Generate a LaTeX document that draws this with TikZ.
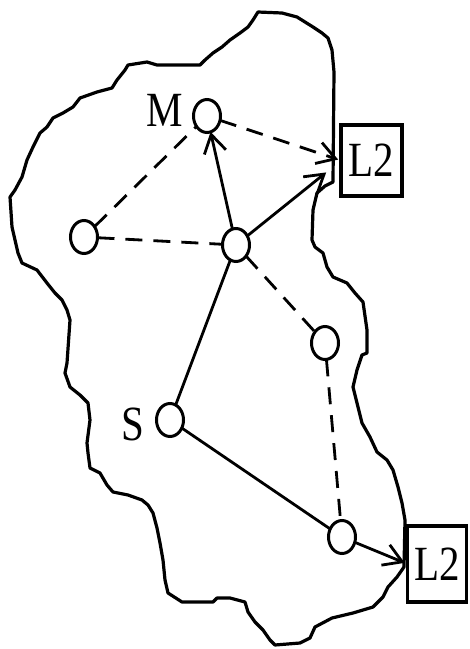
\documentclass[tikz,border=0pt]{standalone}
\usepackage{fontspec}
\setmainfont{Liberation Serif}
\usetikzlibrary{arrows.meta,shapes.geometric}
\begin{document}
\begin{tikzpicture}[x=1pt,y=-1pt,
  every node/.style={inner sep=0pt,outer sep=0pt},
  vert/.style={draw,ellipse,line width=3pt,minimum width=27pt,minimum height=33pt},
  lbox/.style={draw,rectangle,line width=3.5pt,minimum width=61pt,minimum height=71pt,font=\fontsize{41}{41}\selectfont},
  lab/.style={font=\fontsize{41}{41}\selectfont},
  solidline/.style={line width=2.8pt},
  dashline/.style={line width=2.8pt,dash pattern=on 17pt off 11pt},
  >={Straight Barb[length=18pt,width=22pt,line width=2.8pt]},
  blob/.style={line width=3.2pt,line join=round}]
\useasboundingbox (0,0) rectangle (470,649);
% outline
\draw[blob] (258,12) -- (282,13) -- (297,17) -- (305,22) -- (313,27) -- (322,33) -- (328,38) -- (332,50) -- (334,72) -- (333,182)
 -- (325,186) -- (317,193) -- (313,210) -- (312,240) -- (315,247) -- (323,253) -- (327,267) -- (333,277) -- (347,283) -- (355,293) -- (363,302) -- (367,330) -- (367,353)
 -- (362,355) -- (357,370) -- (353,387) -- (357,403) -- (362,423) -- (370,437) -- (377,452) -- (387,460) -- (393,470) -- (398,487) -- (402,503) -- (405,520) -- (404,567)
 -- (397,577) -- (388,587) -- (383,597) -- (373,607) -- (353,613) -- (332,618) -- (315,627) -- (310,638) -- (300,643) -- (275,645) -- (270,640) -- (263,630) -- (255,622) -- (248,612) -- (245,602) -- (230,598) -- (217,598) -- (213,602) -- (182,602) -- (168,593) -- (165,580) -- (163,560) -- (160,543) -- (157,528) -- (153,513) -- (148,505) -- (142,500) -- (128,495) -- (113,492) -- (107,485) -- (100,473) -- (90,468) -- (88,453) -- (87,443) -- (90,420) -- (88,403) -- (80,395) -- (70,387) -- (65,373) -- (67,363) -- (70,320) -- (67,310) -- (62,300) -- (55,293) -- (47,283) -- (37,270) -- (22,263) -- (18,253) -- (15,240) -- (12,227) -- (10,197) -- (15,190) -- (22,177) -- (27,160) -- (33,147) -- (40,133) -- (47,127) -- (53,118) -- (63,113) -- (73,107) -- (80,98) -- (97,92) -- (112,88) -- (117,80) -- (125,70) -- (128,65) -- (147,62) -- (157,65) -- (200,65) -- (205,60) -- (213,53) -- (222,47) -- (230,40) -- (240,33) -- (248,27) -- (253,20) -- cycle;
% nodes
\node[vert] (M) at (207,116) {};
\node[vert] (Lf) at (84,237) {};
\node[vert] (C) at (236,245) {};
\node[vert] (R) at (325,343) {};
\node[vert] (S) at (170,420) {};
\node[vert] (B) at (342,537) {};
\node[lbox] (L2a) at (371.5,160.5) {\scalebox{1}[1.2]{L2}};
\node[lbox,minimum width=59pt,minimum height=76pt] (L2b) at (437,564) {\scalebox{1}[1.2]{L2}};
\node[lab] (Mlab) at (165,110) {\scalebox{1}[1.2]{M}};
\node[lab] (Slab) at (133,424) {\scalebox{1}[1.2]{S}};
% connectors
\draw[dashline,->,shorten >=3pt] (M) -- (L2a.west);
\draw[dashline] (Lf) -- (M);
\draw[dashline] (Lf) -- (C);
\draw[solidline,->] (C) -- (M);
\draw[solidline,->,shorten >=19pt] (C) -- (L2a.west);
\draw[dashline] (C) -- (R);
\draw[dashline] (R) -- (B);
\draw[solidline] (S) -- (C);
\draw[solidline] (S) -- (B);
\draw[solidline,->,shorten >=3pt] (B) -- (L2b.west);
\end{tikzpicture}
\end{document}
